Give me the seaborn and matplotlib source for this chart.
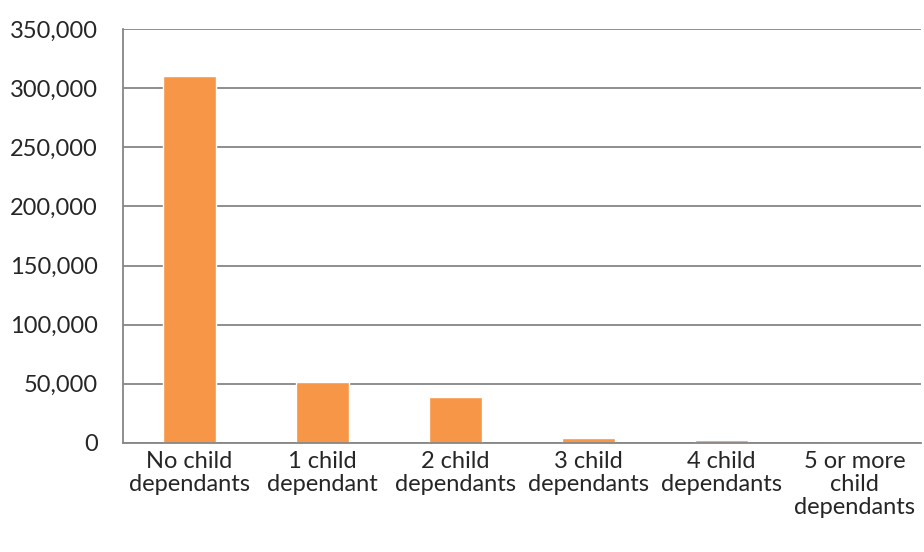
import matplotlib.pyplot as plt
import pandas as pd
import seaborn as sns
from matplotlib.ticker import FuncFormatter, FixedLocator

# Данные
categories = ['No child\ndependants', '1 child\ndependant', '2 child\ndependants',
              '3 child\ndependants', '4 child\ndependants', '5 or more\nchild\ndependants']
values = [310500, 51500, 38800, 4000, 2500, 200]

df = pd.DataFrame({'cat': categories, 'val': values})

sns.set_style("white")
plt.rcParams['font.family'] = ['Lato', 'DejaVu Sans']

fig = plt.figure(figsize=(9.24, 5.52), dpi=100)
ax = fig.add_axes([0.133, 0.1975, 0.864, 0.75])

sns.barplot(data=df, x='cat', y='val', color='#F79646', width=0.4, saturation=1, ax=ax)

grid_col = '#868686'
ax.set_ylim(0, 350000)
ax.set_xlim(-0.5, len(categories) - 0.5)
ax.set_yticks(range(0, 350001, 50000))
ax.yaxis.set_major_formatter(FuncFormatter(lambda v, p: f'{int(v):,}'))
ax.yaxis.grid(True, color=grid_col, linewidth=1.3)
ax.set_axisbelow(True)

for s in ['top', 'right']:
    ax.spines[s].set_visible(False)
for s in ['left', 'bottom']:
    ax.spines[s].set_color(grid_col)
    ax.spines[s].set_linewidth(1.3)

ax.tick_params(axis='y', length=8, color=grid_col, width=1.3, labelsize=17, pad=10)
ax.tick_params(axis='x', which='major', length=0, labelsize=17, pad=6)
for lbl in ax.get_xticklabels():
    lbl.set_linespacing(1.12)
ax.xaxis.set_minor_locator(FixedLocator([i - 0.5 for i in range(len(categories) + 1)]))
ax.tick_params(axis='x', which='minor', length=8, color=grid_col, width=1.3)
ax.set_xlabel('')
ax.set_ylabel('')

plt.savefig('out.png', dpi=100)
